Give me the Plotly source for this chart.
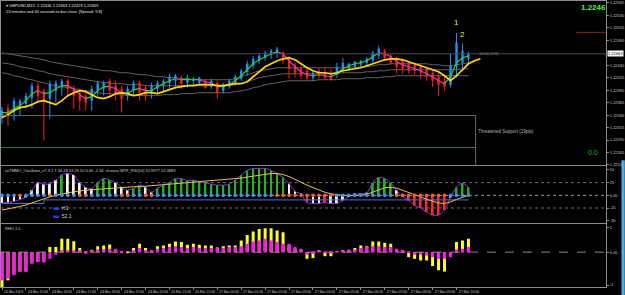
import plotly.graph_objects as go

# ---------------- data ----------------
N_BARS = 79
bars = list(range(N_BARS))

tick_idx = [0, 4, 8, 12, 16, 20, 24, 28, 32, 36, 40, 44, 48, 52, 56, 60, 64, 68, 72, 76]
tick_text = ["24 Mar 2023", "24 Mar 15:00", "24 Mar 16:00", "24 Mar 17:00", "24 Mar 18:00",
             "24 Mar 19:00", "24 Mar 20:00", "24 Mar 21:00", "24 Mar 22:00", "27 Mar 00:00",
             "27 Mar 01:00", "27 Mar 02:00", "27 Mar 03:00", "27 Mar 04:00", "27 Mar 05:00",
             "27 Mar 06:00", "27 Mar 07:00", "27 Mar 08:00", "27 Mar 09:00", "27 Mar 10:00"]

open_ = [1.22333, 1.22353, 1.22345, 1.22353, 1.22363, 1.22375, 1.22399, 1.22389, 1.22373, 1.22389,
         1.22395, 1.22409, 1.22395, 1.22385, 1.22379, 1.22369, 1.22389, 1.22393, 1.22409, 1.22399,
         1.22393, 1.22379, 1.22389, 1.22405, 1.22395, 1.22385, 1.22393, 1.22399, 1.22405, 1.22409,
         1.22415, 1.22405, 1.22409, 1.22405, 1.22409, 1.22397, 1.22405, 1.22389, 1.22397, 1.22405,
         1.22413, 1.22427, 1.22439, 1.22449, 1.22455, 1.22461, 1.22465, 1.22465, 1.22453, 1.22441,
         1.22433, 1.22429, 1.22415, 1.22429, 1.22425, 1.22423, 1.22421, 1.22431, 1.22433, 1.22437,
         1.22441, 1.22445, 1.22449, 1.22459, 1.22469, 1.22459, 1.22453, 1.22449, 1.22445, 1.22441,
         1.22437, 1.22433, 1.22425, 1.22417, 1.22409, 1.22401, 1.22437, 1.22445, 1.22453]
high_ = [1.22357, 1.22363, 1.22375, 1.22373, 1.22385, 1.22405, 1.22405, 1.22393, 1.22409, 1.22409,
         1.22413, 1.22413, 1.22399, 1.22393, 1.22385, 1.22399, 1.22409, 1.22409, 1.22413, 1.22409,
         1.22399, 1.22399, 1.22409, 1.22409, 1.22401, 1.22405, 1.22409, 1.22413, 1.22423, 1.22423,
         1.22419, 1.22421, 1.22417, 1.22417, 1.22413, 1.22413, 1.22409, 1.22405, 1.22413, 1.22421,
         1.22433, 1.22449, 1.22459, 1.22465, 1.22469, 1.22473, 1.22477, 1.22469, 1.22459, 1.22445,
         1.22437, 1.22435, 1.22429, 1.22435, 1.22435, 1.22433, 1.22445, 1.22455, 1.22445, 1.22449,
         1.22451, 1.22457, 1.22469, 1.22479, 1.22473, 1.22463, 1.22457, 1.22453, 1.22449, 1.22445,
         1.22443, 1.22437, 1.22433, 1.22429, 1.22417, 1.22463, 1.22505, 1.22483, 1.22467]
low_ = [1.22323, 1.22319, 1.22329, 1.22339, 1.22353, 1.22353, 1.22369, 1.22289, 1.22333, 1.22365,
        1.22379, 1.22379, 1.22353, 1.22349, 1.22349, 1.22349, 1.22379, 1.22379, 1.22379, 1.22369,
        1.22345, 1.22369, 1.22379, 1.22369, 1.22369, 1.22373, 1.22383, 1.22389, 1.22393, 1.22397,
        1.22393, 1.22395, 1.22401, 1.22401, 1.22393, 1.22393, 1.22373, 1.22383, 1.22393, 1.22399,
        1.22409, 1.22419, 1.22433, 1.22443, 1.22449, 1.22453, 1.22455, 1.22443, 1.22413, 1.22415,
        1.22413, 1.22409, 1.22409, 1.22413, 1.22411, 1.22409, 1.22415, 1.22425, 1.22429, 1.22435,
        1.22435, 1.22439, 1.22445, 1.22453, 1.22449, 1.22441, 1.22423, 1.22423, 1.22423, 1.22421,
        1.22413, 1.22409, 1.22397, 1.22379, 1.22389, 1.22395, 1.22415, 1.22429, 1.22445]
close_ = [1.22349, 1.22337, 1.22369, 1.22369, 1.22379, 1.22399, 1.22379, 1.22369, 1.22403, 1.22405,
          1.22409, 1.22393, 1.22379, 1.22369, 1.22365, 1.22393, 1.22405, 1.22405, 1.22389, 1.22383,
          1.22373, 1.22393, 1.22405, 1.22385, 1.22379, 1.22399, 1.22405, 1.22409, 1.22417, 1.22419,
          1.22403, 1.22415, 1.22413, 1.22415, 1.22395, 1.22409, 1.22385, 1.22401, 1.22409, 1.22417,
          1.22429, 1.22443, 1.22453, 1.22459, 1.22465, 1.22469, 1.22473, 1.22449, 1.22433, 1.22425,
          1.22419, 1.22415, 1.22425, 1.22419, 1.22415, 1.22411, 1.22437, 1.22445, 1.22443, 1.22447,
          1.22449, 1.22453, 1.22465, 1.22473, 1.22455, 1.22445, 1.22437, 1.22433, 1.22429, 1.22429,
          1.22425, 1.22417, 1.22409, 1.22401, 1.22397, 1.22439, 1.22485, 1.22469, 1.22463]

# slow (displaced) moving average - 81 points, runs 2 bars past the last candle
ma_slow = [1.22335, 1.22341, 1.22349, 1.22355, 1.22357, 1.22361, 1.22367, 1.22369, 1.22365, 1.22361,
           1.22369, 1.22379, 1.22385, 1.22389, 1.22387, 1.22381, 1.22375, 1.22373, 1.22377, 1.22383,
           1.22385, 1.22383, 1.22379, 1.22381, 1.22385, 1.22385, 1.22383, 1.22387, 1.22391, 1.22395,
           1.22397, 1.22399, 1.22399, 1.22401, 1.22401, 1.22401, 1.22399, 1.22399, 1.22401, 1.22403,
           1.22403, 1.22407, 1.22417, 1.22427, 1.22437, 1.22443, 1.22449, 1.22453, 1.22455, 1.22451,
           1.22443, 1.22435, 1.22429, 1.22425, 1.22425, 1.22423, 1.22425, 1.22429, 1.22431, 1.22433,
           1.22435, 1.22439, 1.22443, 1.22447, 1.22451, 1.22453, 1.22453, 1.22451, 1.22447, 1.22443,
           1.22439, 1.22435, 1.22431, 1.22427, 1.22419, 1.22409, 1.22419, 1.22431, 1.22443, 1.22449,
           1.22453]
ma_fast = [1.22345, 1.22345, 1.22353, 1.22359, 1.22369, 1.22383, 1.22389, 1.22383, 1.22385, 1.22393,
           1.22399, 1.22399, 1.22393, 1.22381, 1.22373, 1.22377, 1.22389, 1.22397, 1.22397, 1.22393,
           1.22383, 1.22383, 1.22391, 1.22393, 1.22389, 1.22389, 1.22397, 1.22403, 1.22409, 1.22413,
           1.22411, 1.22411, 1.22411, 1.22411, 1.22407, 1.22405, 1.22397, 1.22397, 1.22401, 1.22409,
           1.22419, 1.22431, 1.22443, 1.22451, 1.22457, 1.22463, 1.22467, 1.22463, 1.22449, 1.22437,
           1.22427, 1.22421, 1.22419, 1.22421, 1.22419, 1.22417, 1.22423, 1.22433, 1.22439, 1.22443,
           1.22445, 1.22449, 1.22457, 1.22465, 1.22463, 1.22457, 1.22447, 1.22441, 1.22437, 1.22433,
           1.22429, 1.22423, 1.22417, 1.22409, 1.22403, 1.22417, 1.22445, 1.22455, 1.22459]
band_upper = [1.22465, 1.22463, 1.22461, 1.22459, 1.22457, 1.22455, 1.22453, 1.22451, 1.22447, 1.22445,
              1.22443, 1.22441, 1.22439, 1.22437, 1.22435, 1.22433, 1.22431, 1.22429, 1.22429, 1.22427,
              1.22425, 1.22425, 1.22423, 1.22421, 1.22421, 1.22419, 1.22417, 1.22417, 1.22415, 1.22415,
              1.22413, 1.22413, 1.22411, 1.22411, 1.22411, 1.22411, 1.22411, 1.22411, 1.22411, 1.22413,
              1.22417, 1.22421, 1.22425, 1.22429, 1.22431, 1.22433, 1.22435, 1.22435, 1.22435, 1.22435,
              1.22435, 1.22435, 1.22435, 1.22435, 1.22435, 1.22435, 1.22435, 1.22435, 1.22435, 1.22435,
              1.22437, 1.22437, 1.22439, 1.22441, 1.22441, 1.22443, 1.22443, 1.22443, 1.22443, 1.22443,
              1.22443, 1.22443, 1.22441, 1.22441, 1.22439, 1.22439, 1.22441, 1.22443, 1.22445]
band_mid = [1.22445, 1.22443, 1.22441, 1.22437, 1.22435, 1.22433, 1.22429, 1.22427, 1.22423, 1.22421,
            1.22419, 1.22417, 1.22415, 1.22413, 1.22411, 1.22409, 1.22407, 1.22405, 1.22405, 1.22403,
            1.22403, 1.22401, 1.22401, 1.22401, 1.22399, 1.22399, 1.22399, 1.22399, 1.22399, 1.22399,
            1.22399, 1.22399, 1.22399, 1.22399, 1.22399, 1.22399, 1.22399, 1.22399, 1.22399, 1.22401,
            1.22403, 1.22407, 1.22411, 1.22415, 1.22417, 1.22419, 1.22421, 1.22423, 1.22423, 1.22423,
            1.22423, 1.22423, 1.22423, 1.22423, 1.22423, 1.22423, 1.22423, 1.22425, 1.22425, 1.22425,
            1.22425, 1.22427, 1.22427, 1.22429, 1.22429, 1.22431, 1.22431, 1.22431, 1.22431, 1.22431,
            1.22431, 1.22431, 1.22431, 1.22431, 1.22431, 1.22431, 1.22431, 1.22433, 1.22433]
band_lower = [1.22425, 1.22423, 1.22419, 1.22417, 1.22413, 1.22411, 1.22407, 1.22405, 1.22401, 1.22399,
              1.22397, 1.22395, 1.22393, 1.22391, 1.22389, 1.22387, 1.22385, 1.22383, 1.22383, 1.22381,
              1.22381, 1.22379, 1.22379, 1.22379, 1.22379, 1.22379, 1.22379, 1.22381, 1.22381, 1.22381,
              1.22383, 1.22383, 1.22383, 1.22385, 1.22385, 1.22385, 1.22385, 1.22385, 1.22385, 1.22387,
              1.22389, 1.22391, 1.22395, 1.22397, 1.22401, 1.22403, 1.22405, 1.22407, 1.22409, 1.22409,
              1.22409, 1.22409, 1.22409, 1.22411, 1.22411, 1.22411, 1.22411, 1.22413, 1.22413, 1.22413,
              1.22413, 1.22415, 1.22415, 1.22415, 1.22417, 1.22417, 1.22419, 1.22419, 1.22419, 1.22419,
              1.22419, 1.22419, 1.22419, 1.22419, 1.22419, 1.22419, 1.22419, 1.22419, 1.22419]

bid_price = 1.22463
support_top = 1.22339
support_line = 1.22275
support_end_bar = 79.2
pending_level = 1.22506
pending_from_bar = 96
price_range = [1.22239, 1.22569]
price_ticks = [1.22565, 1.22540, 1.22515, 1.22490, 1.22440, 1.22415, 1.22390,
               1.22365, 1.22340, 1.22315, 1.22290, 1.22265, 1.22240]

osc_hist = [-15, -14, -12, -8, -4, 10, 25, 22, 23, 30,
            40, 43, 40, 25, 16, 13, 25, 33, 30, 25,
            16, 10, 14, 20, 16, 6, 14, 20, 25, 33,
            33, 29, 30, 27, 25, 22, 20, 20, 22, 30,
            40, 49, 53, 53, 53, 49, 43, 35, 23, 8,
            2, -14, -16, -16, -14, -16, -16, -10, -3, 2,
            3, 5, 25, 35, 33, 25, 10, -3, -10, -20,
            -25, -33, -39, -39, -29, -5, 16, 24, 16]
osc_state = ("WWWWW" "WWWWW" "GWWWW" "WGGGW" "WWGGW" "WGGGG" "GGGGG" "GGGGG"
             "GGGGG" "GGGWW" "WRWWR" "WWWWW" "WWGGG" "GWWRR" "RRRRR" "WGGG")
osc_dot = ("BBBRB" "BBBRB" "BBBRR" "BBBBB" "RRBBR" "RBBBB" "BBBBB" "BBBBB"
           "BBBBB" "BRRRR" "RRRRR" "RBBBB" "BBBBB" "BRRRR" "RRRRR" "BBBB")
osc_signal = [-29, -27, -25, -22, -19, -15, -10, -6, -3, 0,
              3, 5, 7, 9, 10, 11, 12, 13, 14, 15,
              16, 16, 17, 17, 18, 18, 19, 20, 21, 22,
              23, 24, 25, 26, 27, 28, 29, 30, 31, 32,
              34, 36, 38, 40, 42, 43, 43, 41, 37, 32,
              26, 20, 15, 10, 6, 3, 1, 0, -1, -1,
              0, 2, 6, 11, 15, 16, 14, 10, 6, 2,
              -3, -8, -12, -15, -16, -13, -8, -4, 0]
osc_floor = [-16, -16, -16, -16, -16, -16, -16, -9, -9, -9,
             -9, -9, -9, -9, -9, -9, -9, -9, -9, -9,
             -9, -9, -9, -9, -9, -9, -9, -9, -9, -9,
             -9, -9, -9, -9, -9, -9, -9, -9, -9, -9,
             -9, -9, -9, -9, -9, -9, -9, -9, -9, -9,
             -9, -9, -9, -9, -9, -9, -9, -9, -9, -9,
             -9, -9, -9, -9, -9, -9, -9, -9, -9, -9,
             -9, -9, -9, -9, -9, -9, -9, -9, -9]
osc_levels = [25, 0, -25]

rho_main = [-1.18, -1.11, -0.97, -0.83, -0.83, -0.49, -0.42, -0.44, -0.28, -0.11,
            0.07, 0.07, 0.07, 0.05, -0.07, 0.07, 0.11, 0.11, 0.14, 0.14,
            -0.03, 0.03, 0.07, 0.17, 0.07, 0.07, 0.14, 0.17, 0.21, 0.25,
            0.21, 0.17, 0.21, 0.17, 0.17, 0.17, 0.17, 0.17, 0.21, 0.21,
            0.25, 0.35, 0.44, 0.49, 0.56, 0.49, 0.42, 0.35, 0.35, 0.21,
            0.14, -0.11, -0.07, 0.07, -0.03, -0.03, 0.03, 0.07, 0.11, 0.10,
            0.17, 0.21, 0.25, 0.25, 0.21, 0.21, 0.14, 0.07, -0.03, -0.11,
            -0.11, -0.14, -0.21, -0.28, -0.28, -0.21, 0.11, 0.14, 0.21]
rho_signal = [-1.46, -1.18, -0.90, -0.80, -0.80, -0.45, -0.40, -0.40, 0.21, 0.21,
              0.56, 0.56, 0.45, 0.17, -0.05, 0.10, 0.25, 0.28, 0.32, 0.10,
              0.03, -0.03, 0.17, 0.35, 0.17, 0.05, 0.25, 0.28, 0.35, 0.44,
              0.42, 0.31, 0.35, 0.31, 0.28, 0.28, 0.19, 0.25, 0.28, 0.28,
              0.49, 0.72, 0.86, 0.97, 1.00, 1.00, 0.90, 0.83, 0.30, 0.15,
              0.10, -0.28, -0.25, 0.05, -0.17, -0.17, 0.02, 0.05, 0.08, 0.17,
              0.28, 0.25, 0.44, 0.44, 0.39, 0.35, 0.10, 0.05, -0.21, -0.28,
              -0.35, -0.35, -0.58, -0.76, -0.81, -0.15, 0.42, 0.49, 0.56]

# ---------------- styling ----------------
BG = "black"
FRAME = "#8c8c8c"
TXT = "#c8c8c8"
UP = "#1e90ff"
DOWN = "#ff1a1a"
FONT = "Liberation Sans"
X_RANGE = [-0.17, 101.0]

fig = go.Figure()

# ---- main panel: envelope lines
for band in (band_upper, band_mid, band_lower):
    fig.add_trace(go.Scatter(x=bars, y=band, mode="lines",
                             line=dict(color="#7a7a7a", width=0.8), hoverinfo="skip"))

# ---- candle wicks
for is_up, col in ((True, UP), (False, DOWN)):
    wx, wy = [], []
    for i in bars:
        if (close_[i] >= open_[i]) == is_up:
            wx += [i, i, None]
            wy += [low_[i], high_[i], None]
    fig.add_trace(go.Scatter(x=wx, y=wy, mode="lines", line=dict(color=col, width=1),
                             hoverinfo="skip"))

# ---- candle bodies
body_base = [min(o, c) for o, c in zip(open_, close_)]
body_len = [max(abs(c - o), 0.000012) for o, c in zip(open_, close_)]
body_col = [UP if c >= o else DOWN for o, c in zip(open_, close_)]
fig.add_trace(go.Bar(x=bars, y=body_len, base=body_base, width=0.4,
                     marker=dict(color=body_col, line=dict(width=0)), hoverinfo="skip"))

# ---- fast MA coloured by direction
for rising, col in ((True, "#2fd02f"), (False, "#d040c0")):
    sx, sy = [], []
    for i in range(1, N_BARS):
        if (ma_fast[i] >= ma_fast[i - 1]) == rising:
            sx += [i - 1, i, None]
            sy += [ma_fast[i - 1], ma_fast[i], None]
    fig.add_trace(go.Scatter(x=sx, y=sy, mode="lines", line=dict(color=col, width=1.2),
                             hoverinfo="skip"))

# ---- slow MA (yellow)
fig.add_trace(go.Scatter(x=list(range(len(ma_slow))), y=ma_slow, mode="lines",
                         line=dict(color="#ffd21a", width=1.7), hoverinfo="skip"))

# ---- oscillator panel
state_col = {"W": "#f4f4f4", "G": "#25b025", "R": "#ff2828"}
fig.add_trace(go.Bar(x=bars, y=osc_hist, width=0.32, xaxis="x2", yaxis="y2",
                     marker=dict(color=[state_col[s] for s in osc_state], line=dict(width=0)),
                     hoverinfo="skip"))
fig.add_trace(go.Scatter(x=bars, y=osc_hist, mode="lines", xaxis="x2", yaxis="y2",
                         line=dict(color="#8a3ad8", width=1, shape="spline"), hoverinfo="skip"))
fig.add_trace(go.Scatter(x=bars, y=osc_floor, mode="lines", xaxis="x2", yaxis="y2",
                         line=dict(color="#5a6cd0", width=1, shape="hv"), hoverinfo="skip"))
fig.add_trace(go.Scatter(x=bars, y=osc_signal, mode="lines", xaxis="x2", yaxis="y2",
                         line=dict(color="#e6c24a", width=1), hoverinfo="skip"))
dot_col = {"B": "#3d8ff0", "R": "#f0603c"}
fig.add_trace(go.Scatter(x=bars, y=[0] * N_BARS, mode="markers", xaxis="x2", yaxis="y2",
                         marker=dict(color=[dot_col[s] for s in osc_dot], size=3.6,
                                     line=dict(width=0)), hoverinfo="skip"))

# ---- RHO panel
fig.add_trace(go.Bar(x=bars, y=rho_signal, width=0.5, xaxis="x3", yaxis="y3",
                     marker=dict(color="#ffff1e", line=dict(width=0)), hoverinfo="skip"))
fig.add_trace(go.Bar(x=bars, y=rho_main, width=0.5, xaxis="x3", yaxis="y3",
                     marker=dict(color="#ff10ff", line=dict(width=0)), hoverinfo="skip"))

# ---------------- layout ----------------
xbase = dict(range=X_RANGE, showgrid=False, zeroline=False, showticklabels=False,
             showline=True, linecolor=FRAME, linewidth=1, mirror=True, fixedrange=True)
ybase = dict(side="right", showgrid=False, zeroline=False, showline=True, linecolor=FRAME,
             linewidth=1, mirror=True, ticks="outside", ticklen=2, tickcolor=FRAME,
             tickfont=dict(size=4, color=TXT, family=FONT), fixedrange=True)

fig.update_layout(
    width=625, height=295, margin=dict(l=0, r=18, t=0, b=8),
    paper_bgcolor=BG, plot_bgcolor=BG, showlegend=False, barmode="overlay",
    font=dict(family=FONT, size=4, color=TXT),
    xaxis=dict(xbase, domain=[0, 1], anchor="y"),
    xaxis2=dict(xbase, domain=[0, 1], anchor="y2", matches="x"),
    xaxis3=dict(xbase, domain=[0, 1], anchor="y3", matches="x", ticks="outside",
                tickvals=tick_idx, ticklen=2, tickcolor=FRAME),
    yaxis=dict(ybase, domain=[0.4251, 1], anchor="x", range=price_range,
               tickvals=price_ticks, ticktext=[f"{p:.5f}" for p in price_ticks]),
    yaxis2=dict(ybase, domain=[0.2230, 0.4216], anchor="x2", range=[-55, 57],
                tickvals=[50, 25, 0, -25, -50], ticktext=["50", "25", "0.00", "-25", "-50"]),
    yaxis3=dict(ybase, domain=[0, 0.2195], anchor="x3", range=[-1.458, 1.167],
                tickvals=[1.04, 0, -1.375], ticktext=["1", "0.00", "-1"]),
)

shapes = [
    dict(type="line", xref="x", yref="y", x0=X_RANGE[0], x1=X_RANGE[1], y0=bid_price, y1=bid_price,
         line=dict(color="#4a4a4a", width=1)),
    dict(type="line", xref="x", yref="y", x0=X_RANGE[0], x1=support_end_bar, y0=support_top,
         y1=support_top, line=dict(color="#6a6a6a", width=1)),
    dict(type="line", xref="x", yref="y", x0=support_end_bar, x1=support_end_bar, y0=support_top,
         y1=price_range[0], line=dict(color="#6a6a6a", width=1)),
    dict(type="line", xref="x", yref="y", x0=X_RANGE[0], x1=support_end_bar, y0=support_line,
         y1=support_line, line=dict(color="#3c6e3c", width=1)),
    dict(type="line", xref="x", yref="y", x0=pending_from_bar, x1=X_RANGE[1], y0=pending_level,
         y1=pending_level, line=dict(color="#8b1a1a", width=1)),
    dict(type="line", xref="x3", yref="y3", x0=X_RANGE[0], x1=X_RANGE[1], y0=0, y1=0,
         line=dict(color="#8a8a8a", width=1, dash="dash"), layer="below"),
    dict(type="rect", xref="paper", yref="paper", x0=1.0256, x1=1.031, y0=-0.03, y1=0.443,
         fillcolor="#4fb0e8", line=dict(width=0)),
]
for lv in osc_levels:
    shapes.append(dict(type="line", xref="x2", yref="y2", x0=X_RANGE[0], x1=X_RANGE[1],
                       y0=lv, y1=lv, layer="below",
                       line=dict(color="#9a9a9a" if lv == 0 else "#6e6e6e", width=1, dash="dot")))
fig.update_layout(shapes=shapes)

ann = []
# date labels under the RHO panel
for t, lab in zip(tick_idx, tick_text):
    ann.append(dict(x=t, y=0, xref="x3", yref="paper", text=lab, showarrow=False,
                    xanchor="left", yanchor="top", yshift=-1,
                    font=dict(size=3.4, color=TXT, family=FONT)))
ann += [
    dict(x=0.005, y=0.986, xref="paper", yref="paper", xanchor="left", yanchor="middle",
         showarrow=False, text="▾ GBPUSD,M15  1.22430 1.22463 1.22429 1.22463",
         font=dict(size=4, color="#e6e6e6", family=FONT)),
    dict(x=0.005, y=0.965, xref="paper", yref="paper", xanchor="left", yanchor="middle",
         showarrow=False, text="13 minutes and 40 seconds to bar close. [Spread: 9.8]",
         font=dict(size=4, color="#e6e6e6", family=FONT)),
    dict(x=0.980, y=0.978, xref="paper", yref="paper", xanchor="center", yanchor="middle",
         showarrow=False, text="<b>1.2246</b>", font=dict(size=8, color="#52f03a", family=FONT)),
    dict(x=76, y=high_[76], xref="x", yref="y", yshift=10, showarrow=False, text="1",
         font=dict(size=8, color="#eeee55", family=FONT)),
    dict(x=77, y=high_[77], xref="x", yref="y", yshift=9, showarrow=False, text="2",
         font=dict(size=8, color="#eeee55", family=FONT)),
    dict(x=79.5, y=bid_price, xref="x", yref="y", xanchor="left", yanchor="middle",
         showarrow=False, text="13:40 (9.8)", font=dict(size=4, color="#8a8a8a", family=FONT)),
    dict(x=79.3, y=(support_top + support_line) / 2, xref="x", yref="y", xanchor="left",
         yanchor="middle", showarrow=False, text="Threatened Support (19pip)",
         font=dict(size=4.5, color="#b4b4b4", family=FONT)),
    dict(x=0.979, y=1.22265, xref="paper", yref="y", xanchor="center", yanchor="middle",
         showarrow=False, text="0.0", font=dict(size=7, color="#36b036", family=FONT)),
    dict(x=1.0, y=close_[-1], xref="paper", yref="y", xanchor="left", yanchor="middle",
         xshift=1, showarrow=False, text=f"{close_[-1]:.5f}", bgcolor="#ffffff",
         font=dict(size=4, color="#000000", family=FONT), borderpad=0),
    dict(x=0.004, y=0.4077, xref="paper", yref="paper", xanchor="left", yanchor="middle",
         showarrow=False,
         text="xxTMMO_Oscillator_v7.3.1 7.34 28.53 29.52 0.00 -1.34 ·xLinear MTF_RSI(14) 52.9977 52.0883",
         font=dict(size=4, color="#d0d0d0", family=FONT)),
    dict(x=0.082, y=0.2753, xref="paper", yref="paper", xanchor="left", yanchor="middle",
         showarrow=False, text="<span style='color:#2a48ff'>■■</span>  H1",
         font=dict(size=5, color="#d0d0d0", family=FONT)),
    dict(x=0.082, y=0.2474, xref="paper", yref="paper", xanchor="left", yanchor="middle",
         showarrow=False, text="<span style='color:#2a48ff'>■■</span>  52.1",
         font=dict(size=5, color="#d0d0d0", family=FONT)),
    dict(x=0.004, y=0.2056, xref="paper", yref="paper", xanchor="left", yanchor="middle",
         showarrow=False, text="RHO 1.0", font=dict(size=4, color="#d0d0d0", family=FONT)),
]
fig.update_layout(annotations=ann)

fig.write_html("out.html")
